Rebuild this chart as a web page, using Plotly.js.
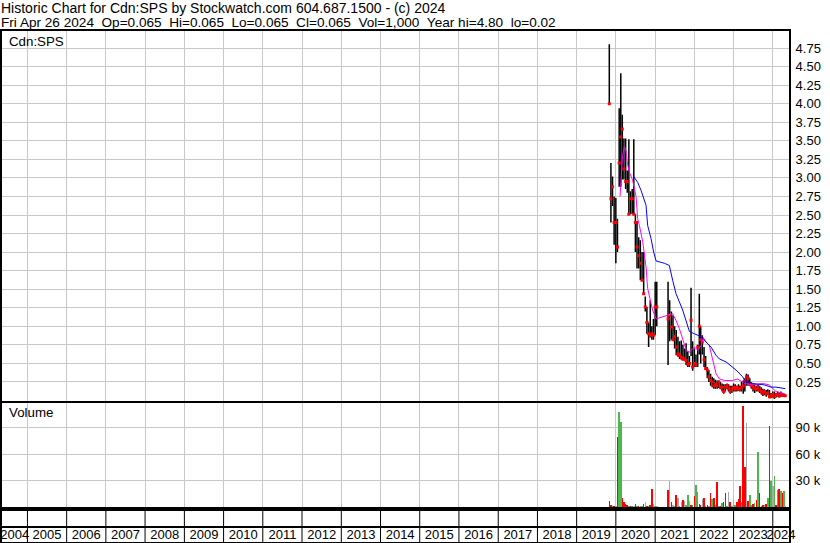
<!DOCTYPE html>
<html><head><meta charset="utf-8">
<script src="https://cdn.plot.ly/plotly-3.0.1.min.js"></script>
<style>html,body{margin:0;padding:0;background:#fff}#chart{width:830px;height:543px}</style>
</head><body><div id="chart"></div>
<script>
// ---- data ----
const dates = ['2019-11-01','2019-11-16','2019-12-01','2019-12-16','2020-01-01','2020-01-16','2020-02-01','2020-02-16','2020-03-01','2020-03-16',
'2020-04-01','2020-04-16','2020-05-01','2020-05-16','2020-06-01','2020-06-16','2020-07-01','2020-07-16','2020-08-01','2020-08-16',
'2020-09-01','2020-09-16','2020-10-01','2020-10-16','2020-11-01','2020-11-16','2020-12-01','2020-12-16','2021-01-01','2021-01-16',
'2021-05-01','2021-05-16','2021-06-01','2021-06-16','2021-07-01','2021-07-16','2021-08-01','2021-08-16','2021-09-01','2021-09-16',
'2021-10-01','2021-10-16','2021-11-01','2021-11-16','2021-12-01','2021-12-16','2022-01-01','2022-01-16','2022-02-01','2022-02-16',
'2022-03-01','2022-03-16','2022-04-01','2022-04-16','2022-05-01','2022-05-16','2022-06-01','2022-06-16','2022-07-01','2022-07-16',
'2022-08-01','2022-08-16','2022-09-01','2022-09-16','2022-10-01','2022-10-16','2022-11-01','2022-11-16','2022-12-01','2022-12-16',
'2023-01-01','2023-01-16','2023-02-01','2023-02-16','2023-03-01','2023-03-16','2023-04-01','2023-04-16','2023-05-01','2023-05-16',
'2023-06-01','2023-06-16','2023-07-01','2023-07-16','2023-08-01','2023-08-16','2023-09-01','2023-09-16','2023-10-01','2023-10-16',
'2023-11-01','2023-11-16','2023-12-01','2023-12-16','2024-01-01','2024-01-16','2024-02-01','2024-02-16','2024-03-01','2024-03-16',
'2024-04-01','2024-04-16','2024-04-26'];
const opens = [4.80,3.20,2.72,2.75,2.40,2.40,2.88,3.20,3.55,3.53,
3.12,2.95,2.95,2.51,2.72,2.72,2.51,2.40,2.07,1.95,
1.85,1.62,1.40,1.26,1.05,0.90,0.88,0.90,0.88,1.26,
1.26,1.10,1.15,0.99,0.82,0.86,0.72,0.63,0.61,0.58,
0.56,0.56,0.54,0.49,0.60,0.80,0.45,0.50,0.48,0.72,
1.00,0.82,0.72,0.55,0.43,0.41,0.32,0.27,0.25,0.20,
0.22,0.20,0.25,0.18,0.18,0.12,0.18,0.20,0.16,0.12,
0.16,0.18,0.15,0.18,0.16,0.15,0.18,0.20,0.27,0.32,
0.30,0.23,0.20,0.18,0.16,0.15,0.18,0.14,0.12,0.10,
0.12,0.09,0.10,0.05,0.06,0.08,0.05,0.08,0.07,0.06,
0.09,0.07,0.065];
const highs = [4.80,3.20,3.02,2.75,2.73,2.45,3.94,4.41,3.85,3.53,
3.53,3.10,3.52,2.82,2.85,3.52,2.51,2.42,2.20,2.16,
2.00,2.00,1.40,1.26,1.05,1.35,1.00,1.10,1.60,1.60,
1.60,1.35,1.20,1.15,1.00,0.95,0.86,0.80,0.81,0.75,
0.70,0.77,0.66,0.60,1.52,0.80,0.70,0.62,0.75,1.44,
1.00,0.88,0.72,0.60,0.45,0.41,0.36,0.32,0.30,0.28,
0.27,0.27,0.25,0.23,0.22,0.22,0.23,0.22,0.20,0.20,
0.23,0.22,0.20,0.22,0.20,0.25,0.27,0.30,0.36,0.35,
0.30,0.25,0.23,0.22,0.20,0.22,0.20,0.18,0.16,0.15,
0.14,0.15,0.14,0.10,0.12,0.12,0.10,0.12,0.10,0.12,
0.10,0.09,0.065];
const lows = [4.00,2.40,2.62,2.10,1.85,2.00,2.88,2.88,2.98,2.98,
2.85,2.80,2.51,2.51,2.51,2.51,2.00,1.78,1.78,1.62,
1.62,1.44,1.20,0.90,0.72,0.85,0.82,0.82,0.88,1.00,
0.48,0.80,0.82,0.81,0.70,0.61,0.59,0.56,0.55,0.54,
0.54,0.48,0.45,0.45,0.60,0.40,0.45,0.45,0.45,0.62,
0.50,0.62,0.45,0.41,0.30,0.25,0.20,0.18,0.16,0.16,
0.16,0.17,0.15,0.12,0.09,0.12,0.15,0.12,0.09,0.10,
0.12,0.12,0.12,0.13,0.12,0.12,0.09,0.12,0.20,0.20,
0.20,0.16,0.12,0.10,0.12,0.12,0.10,0.08,0.06,0.07,
0.05,0.07,0.03,0.03,0.04,0.02,0.04,0.05,0.04,0.05,
0.05,0.05,0.065];
const closes = [4.00,2.72,2.88,2.40,2.40,2.07,3.20,3.55,3.66,3.12,
2.95,2.95,2.51,2.72,2.72,2.51,2.40,2.07,1.95,1.85,
1.62,1.44,1.26,1.05,0.90,0.88,0.90,0.88,1.26,1.26,
1.10,1.15,0.99,0.82,0.86,0.72,0.63,0.61,0.58,0.56,
0.56,0.54,0.49,0.50,1.08,0.45,0.50,0.48,0.72,1.00,
0.82,0.79,0.55,0.43,0.41,0.32,0.27,0.25,0.20,0.22,
0.20,0.25,0.18,0.18,0.12,0.18,0.20,0.16,0.12,0.16,
0.18,0.15,0.18,0.16,0.15,0.18,0.20,0.27,0.32,0.30,
0.23,0.20,0.18,0.16,0.15,0.18,0.14,0.12,0.10,0.12,
0.09,0.10,0.05,0.06,0.08,0.05,0.08,0.07,0.06,0.09,
0.07,0.07,0.065];
const volumes = [7000,2000,1500,1500,1500,80000,108000,96000,10000,6000,
3500,3000,1500,1000,1000,1000,3400,1000,1000,1500,
1000,4000,5700,1500,1000,3000,21000,4000,1000,1000,
19000,30000,6000,2000,1500,14000,10000,1500,6000,8000,
7000,2000,14000,7000,2500,2000,12500,25000,17500,4000,
2000,9000,11000,1500,2000,1000,15600,9000,11000,2000,
28500,1000,1500,5000,5700,16000,1000,17000,5500,1000,
8000,3000,6000,9000,24000,6000,114600,46000,95500,7000,
14000,2000,4000,5000,8000,62000,15600,1500,2000,3000,
4000,11000,92500,30000,24000,35000,2000,19000,21000,18000,
16000,18600,1000];
// price direction of each volume bar: d = down, u = up, n = unchanged
const volDir = ['d','d','u','d','n','d','u','u','d','d',
'd','d','u','d','u','n','d','u','d','n',
'u','d','n','d','u','d','d','n','u','n',
'd','n','d','n','u','d','n','u','n','d',
'n','u','u','n','d','u','d','u','u','d',
'd','n','d','u','d','n','d','u','d','u',
'd','u','d','u','d','d','u','n','d','u',
'n','u','d','d','d','u','d','d','n','d',
'u','u','d','u','d','u','d','u','d','n',
'd','u','d','u','n','u','d','u','d','u',
'd','u','n'];
const fastMaDates = ['2020-02-09','2020-03-03','2020-03-19','2020-04-04','2020-04-19','2020-05-05','2020-06-05','2020-07-07','2020-07-22','2020-08-07',
'2020-09-07','2020-10-08','2020-10-23','2020-11-07','2020-12-08','2021-01-10','2021-05-13','2021-06-13','2021-07-14','2021-08-14',
'2021-09-14','2021-10-16','2021-11-16','2022-01-01','2022-02-01','2022-03-04','2022-03-25','2022-04-19','2022-05-20','2022-06-20',
'2022-07-22','2022-08-22','2022-10-07','2022-12-23','2023-02-08','2023-04-11','2023-06-27','2023-09-28','2023-11-29','2024-01-31','2024-04-17'];
const fastMa = [2.75,3.29,3.42,3.37,3.18,3.08,2.97,2.75,2.45,2.36,
2.14,1.80,1.51,1.40,1.22,1.10,1.15,1.17,1.08,0.97,
0.83,0.68,0.65,0.72,0.68,0.74,0.85,0.79,0.74,0.54,
0.36,0.29,0.27,0.27,0.29,0.23,0.21,0.23,0.21,0.12,0.09];
const slowMaDates = ['2020-06-15','2020-07-22','2020-08-23','2020-09-16','2020-10-08','2020-10-23','2020-11-24','2020-12-18','2021-01-10','2021-03-27',
'2021-05-13','2021-06-13','2021-07-14','2021-09-14','2021-10-30','2021-11-16','2022-01-01','2022-03-04','2022-04-19','2022-06-05',
'2022-07-22','2022-08-22','2022-10-23','2022-12-08','2023-01-24','2023-03-26','2023-04-27','2023-06-27','2023-10-14','2023-12-16',
'2024-01-31','2024-04-26'];
const slowMa = [3.02,2.94,2.83,2.72,2.63,2.36,2.18,2.00,1.88,1.85,
1.82,1.62,1.44,1.22,1.02,0.93,0.90,0.86,0.79,0.72,
0.61,0.56,0.52,0.47,0.41,0.32,0.25,0.23,0.21,0.18,
0.18,0.16];
const priceTicks = [0.25,0.50,0.75,1.00,1.25,1.50,1.75,2.00,2.25,2.50,2.75,3.00,3.25,3.50,3.75,4.00,4.25,4.50,4.75];
const volTicks = [30000,60000,90000];
const volTickText = ['30 k','60 k','90 k'];
const years = [2004,2005,2006,2007,2008,2009,2010,2011,2012,2013,2014,2015,2016,2017,2018,2019,2020,2021,2022,2023,2024];
const headerLine1 = 'Historic Chart for Cdn:SPS by Stockwatch.com 604.687.1500 - (c) 2024';
const headerLine2 = 'Fri Apr 26 2024&nbsp;&nbsp;Op=0.065&nbsp;&nbsp;Hi=0.065&nbsp;&nbsp;Lo=0.065&nbsp;&nbsp;Cl=0.065&nbsp;&nbsp;Vol=1,000&nbsp;&nbsp;Year hi=4.80&nbsp;&nbsp;lo=0.02';
const symbolLabel = 'Cdn:SPS';
const volumeLabel = 'Volume';

// ---- layout ----
const W = 830, H = 543, mT = 31, mB = 1, mL = 2, mR = 41;
const plotH = H - mT - mB;
const py = y => (H - mB - y) / plotH;
const xRange = ['2004-05-09', '2024-05-31'];
const r0 = Date.parse(xRange[0]), r1 = Date.parse(xRange[1]);
const fmt = ms => new Date(ms).toISOString().slice(0, 19).replace('T', ' ');
const labelPos = years.map(y => {
  const s = Math.max(Date.UTC(y, 0, 1), r0), e = Math.min(Date.UTC(y + 1, 0, 1), r1);
  return fmt((s + e) / 2);
});
const FONT = 'Liberation Sans, Arial, sans-serif';
const GRID = '#c8c8c8';
const dirColor = {d: '#ff0000', u: '#4cb84c', n: '#a8a8a8'};

const traces = [
  {type: 'ohlc', x: dates, open: opens, high: highs, low: lows, close: closes,
   xaxis: 'x', yaxis: 'y', tickwidth: 0,
   increasing: {line: {color: '#000000', width: 1.5}}, decreasing: {line: {color: '#000000', width: 1.5}},
   hoverinfo: 'skip', showlegend: false},
  {type: 'scatter', mode: 'markers', x: dates, y: closes, xaxis: 'x', yaxis: 'y',
   marker: {symbol: 'square', size: 3, color: '#ff0000', line: {width: 0}}, hoverinfo: 'skip', showlegend: false},
  {type: 'scatter', mode: 'lines', x: fastMaDates, y: fastMa, xaxis: 'x', yaxis: 'y',
   line: {color: '#ff00ff', width: 1}, hoverinfo: 'skip', showlegend: false},
  {type: 'scatter', mode: 'lines', x: slowMaDates, y: slowMa, xaxis: 'x', yaxis: 'y',
   line: {color: '#0000ff', width: 1}, hoverinfo: 'skip', showlegend: false},
  {type: 'bar', x: dates, y: volumes, xaxis: 'x2', yaxis: 'y2', width: 14 * 86400000,
   marker: {color: volDir.map(d => dirColor[d]), line: {width: 0}}, hoverinfo: 'skip', showlegend: false},
  // empty trace so the year strip subplot is created
  {type: 'scatter', mode: 'markers', x: [], y: [], xaxis: 'x3', yaxis: 'y3', hoverinfo: 'skip', showlegend: false}
];

// year separators in the bottom strip + the line between strip and label row
const shapes = years.slice(1).map(y => ({type: 'line', xref: 'x3', yref: 'paper',
  x0: y + '-01-01', x1: y + '-01-01', y0: 0, y1: py(509), line: {color: '#000', width: 1}}));
shapes.push({type: 'line', xref: 'paper', yref: 'paper', x0: 0, x1: 1, y0: py(527), y1: py(527),
  line: {color: '#000', width: 2}});

const baseX = {type: 'date', range: xRange, showticklabels: false, showgrid: true, gridcolor: GRID, gridwidth: 1,
  dtick: 'M12', tick0: '2000-01-01', ticks: '', showline: true, mirror: true, linecolor: '#000', linewidth: 2,
  zeroline: false, fixedrange: true};
const layout = {
  width: W, height: H, autosize: false,
  margin: {l: mL, r: mR, t: mT, b: mB, pad: 0},
  paper_bgcolor: '#fff', plot_bgcolor: '#fff',
  font: {family: FONT, size: 13, color: '#000'},
  showlegend: false, hovermode: false, bargap: 0,
  xaxis: Object.assign({}, baseX, {anchor: 'y', rangeslider: {visible: false}}),
  xaxis2: Object.assign({}, baseX, {anchor: 'y2'}),
  xaxis3: {type: 'date', range: xRange, anchor: 'y3', showgrid: false, ticks: '', tickangle: 0,
    tickmode: 'array', tickvals: labelPos, ticktext: years.map(String),
    ticklabelposition: 'inside', ticklabeloverflow: 'allow',
    tickfont: {family: FONT, size: 13, color: '#000'},
    showline: true, mirror: true, linecolor: '#000', linewidth: 2, zeroline: false, fixedrange: true},
  yaxis: {domain: [py(400.5), 1], range: [0, 4.98], side: 'right', anchor: 'x',
    tickmode: 'array', tickvals: priceTicks, ticktext: priceTicks.map(v => v.toFixed(2)),
    ticklabelstandoff: 2,
    showgrid: true, gridcolor: GRID, gridwidth: 1, ticks: '', showline: true, mirror: true,
    linecolor: '#000', linewidth: 2, zeroline: false, fixedrange: true},
  yaxis2: {domain: [py(509), py(403)], range: [-2000, 118000], side: 'right', anchor: 'x2',
    tickmode: 'array', tickvals: volTicks, ticktext: volTickText, ticklabelstandoff: 2,
    showgrid: true, gridcolor: GRID, gridwidth: 1, ticks: '', showline: true, mirror: true,
    linecolor: '#000', linewidth: 2, zeroline: false, fixedrange: true},
  yaxis3: {domain: [0, py(509)], range: [0, 33], anchor: 'x3', showticklabels: false, showgrid: false, ticks: '',
    showline: true, mirror: true, linecolor: '#000', linewidth: 2, zeroline: false, fixedrange: true},
  shapes: shapes,
  annotations: [
    {text: headerLine1, xref: 'paper', yref: 'paper', x: 0, y: py(8), xanchor: 'left', yanchor: 'middle',
     xshift: -3, showarrow: false, font: {family: FONT, size: 14, color: '#000'}},
    {text: headerLine2, xref: 'paper', yref: 'paper', x: 0, y: py(22), xanchor: 'left', yanchor: 'middle',
     xshift: -3, showarrow: false, font: {family: FONT, size: 13.6, color: '#000'}},
    {text: symbolLabel, xref: 'paper', yref: 'paper', x: 0, y: py(41), xanchor: 'left', yanchor: 'middle',
     xshift: 5, showarrow: false, font: {family: FONT, size: 13.3, color: '#000'}},
    {text: volumeLabel, xref: 'paper', yref: 'paper', x: 0, y: py(412), xanchor: 'left', yanchor: 'middle',
     xshift: 5, showarrow: false, font: {family: FONT, size: 13.3, color: '#000'}}
  ]
};
Plotly.newPlot('chart', traces, layout, {staticPlot: true, displayModeBar: false});
</script></body></html>
